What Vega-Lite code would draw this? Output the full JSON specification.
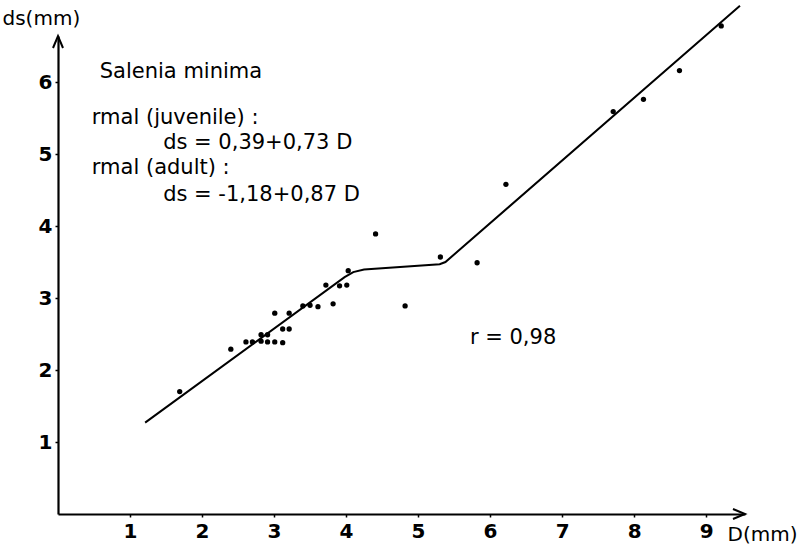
{
  "$schema": "https://vega.github.io/schema/vega-lite/v6.json",
  "width": 687,
  "height": 478,
  "autosize": "none",
  "padding": {"left": 58, "top": 36, "right": 61, "bottom": 36},
  "background": "white",
  "config": {
    "view": {"stroke": null},
    "font": "DejaVu Sans",
    "axis": {"grid": false, "domainColor": "black", "domainWidth": 2.2, "tickColor": "black", "tickWidth": 1.5, "tickSize": 3, "labelColor": "black", "labelFont": "DejaVu Sans", "labelFontSize": 20, "labelFontWeight": 600, "titleFont": "DejaVu Sans", "titleFontSize": 20, "titleFontWeight": "normal", "titleColor": "black"}
  },
  "datasets": {
    "points": [
      {"D": 1.69, "ds": 1.70},
      {"D": 2.40, "ds": 2.29},
      {"D": 2.61, "ds": 2.39},
      {"D": 2.70, "ds": 2.39},
      {"D": 2.82, "ds": 2.49},
      {"D": 2.82, "ds": 2.40},
      {"D": 2.91, "ds": 2.49},
      {"D": 2.91, "ds": 2.39},
      {"D": 3.01, "ds": 2.79},
      {"D": 3.01, "ds": 2.39},
      {"D": 3.12, "ds": 2.57},
      {"D": 3.12, "ds": 2.38},
      {"D": 3.21, "ds": 2.79},
      {"D": 3.21, "ds": 2.57},
      {"D": 3.40, "ds": 2.89},
      {"D": 3.50, "ds": 2.90},
      {"D": 3.61, "ds": 2.88},
      {"D": 3.72, "ds": 3.18},
      {"D": 3.82, "ds": 2.92},
      {"D": 3.91, "ds": 3.17},
      {"D": 4.01, "ds": 3.18},
      {"D": 4.03, "ds": 3.38},
      {"D": 4.41, "ds": 3.89},
      {"D": 4.82, "ds": 2.89},
      {"D": 5.31, "ds": 3.57},
      {"D": 5.82, "ds": 3.49},
      {"D": 6.22, "ds": 4.58},
      {"D": 7.71, "ds": 5.59},
      {"D": 8.13, "ds": 5.76},
      {"D": 8.63, "ds": 6.16},
      {"D": 9.21, "ds": 6.78}
    ],
    "fit": [
      {"D": 1.21, "ds": 1.27},
      {"D": 3.98, "ds": 3.29},
      {"D": 4.10, "ds": 3.36},
      {"D": 4.25, "ds": 3.395},
      {"D": 5.30, "ds": 3.47},
      {"D": 5.38, "ds": 3.50},
      {"D": 9.47, "ds": 7.06}
    ],
    "labels": [
      {"D": 0.58, "ds": 6.14, "text": "Salenia  minima"},
      {"D": 0.47, "ds": 5.50, "text": "rmal (juvenile) :"},
      {"D": 1.46, "ds": 5.15, "text": "ds = 0,39+0,73 D"},
      {"D": 0.47, "ds": 4.81, "text": "rmal (adult)  :"},
      {"D": 1.46, "ds": 4.43, "text": "ds = -1,18+0,87 D"},
      {"D": 5.72, "ds": 2.44, "text": "r = 0,98"}
    ],
    "yarrow": [{"D": 0, "ds": 6.64}],
    "xarrow": [{"D": 9.54, "ds": 0}]
  },
  "encoding": {
    "x": {"field": "D", "type": "quantitative", "scale": {"domain": [0, 9.54], "nice": false, "zero": false},
      "axis": {"values": [1, 2, 3, 4, 5, 6, 7, 8, 9], "format": "d", "title": "D(mm)", "titleAngle": 0, "titleAlign": "left", "titleBaseline": "middle", "titleX": 669, "titleY": 20, "labelPadding": 4, "labelBaseline": "top"}},
    "y": {"field": "ds", "type": "quantitative", "scale": {"domain": [0, 6.64], "nice": false, "zero": false},
      "axis": {"values": [1, 2, 3, 4, 5, 6], "format": "d", "title": "ds(mm)", "titleAngle": 0, "titleAlign": "left", "titleBaseline": "middle", "titleX": -56, "titleY": -18, "labelPadding": 3}}
  },
  "layer": [
    {"data": {"name": "fit"}, "mark": {"type": "line", "color": "black", "strokeWidth": 2, "clip": false}},
    {"data": {"name": "points"}, "mark": {"type": "circle", "color": "black", "size": 28, "opacity": 1}},
    {"data": {"name": "labels"}, "mark": {"type": "text", "align": "left", "baseline": "middle", "fontSize": 21, "color": "black"}, "encoding": {"text": {"field": "text"}}},
    {"data": {"name": "yarrow"}, "mark": {"type": "point", "shape": "M -1 2.4 L 0 0 L 1 2.4", "size": 100, "filled": false, "stroke": "black", "strokeWidth": 2, "opacity": 1, "clip": false}},
    {"data": {"name": "xarrow"}, "mark": {"type": "point", "shape": "M -2.4 -1 L 0 0 L -2.4 1", "size": 100, "filled": false, "stroke": "black", "strokeWidth": 2, "opacity": 1, "clip": false}}
  ]
}
